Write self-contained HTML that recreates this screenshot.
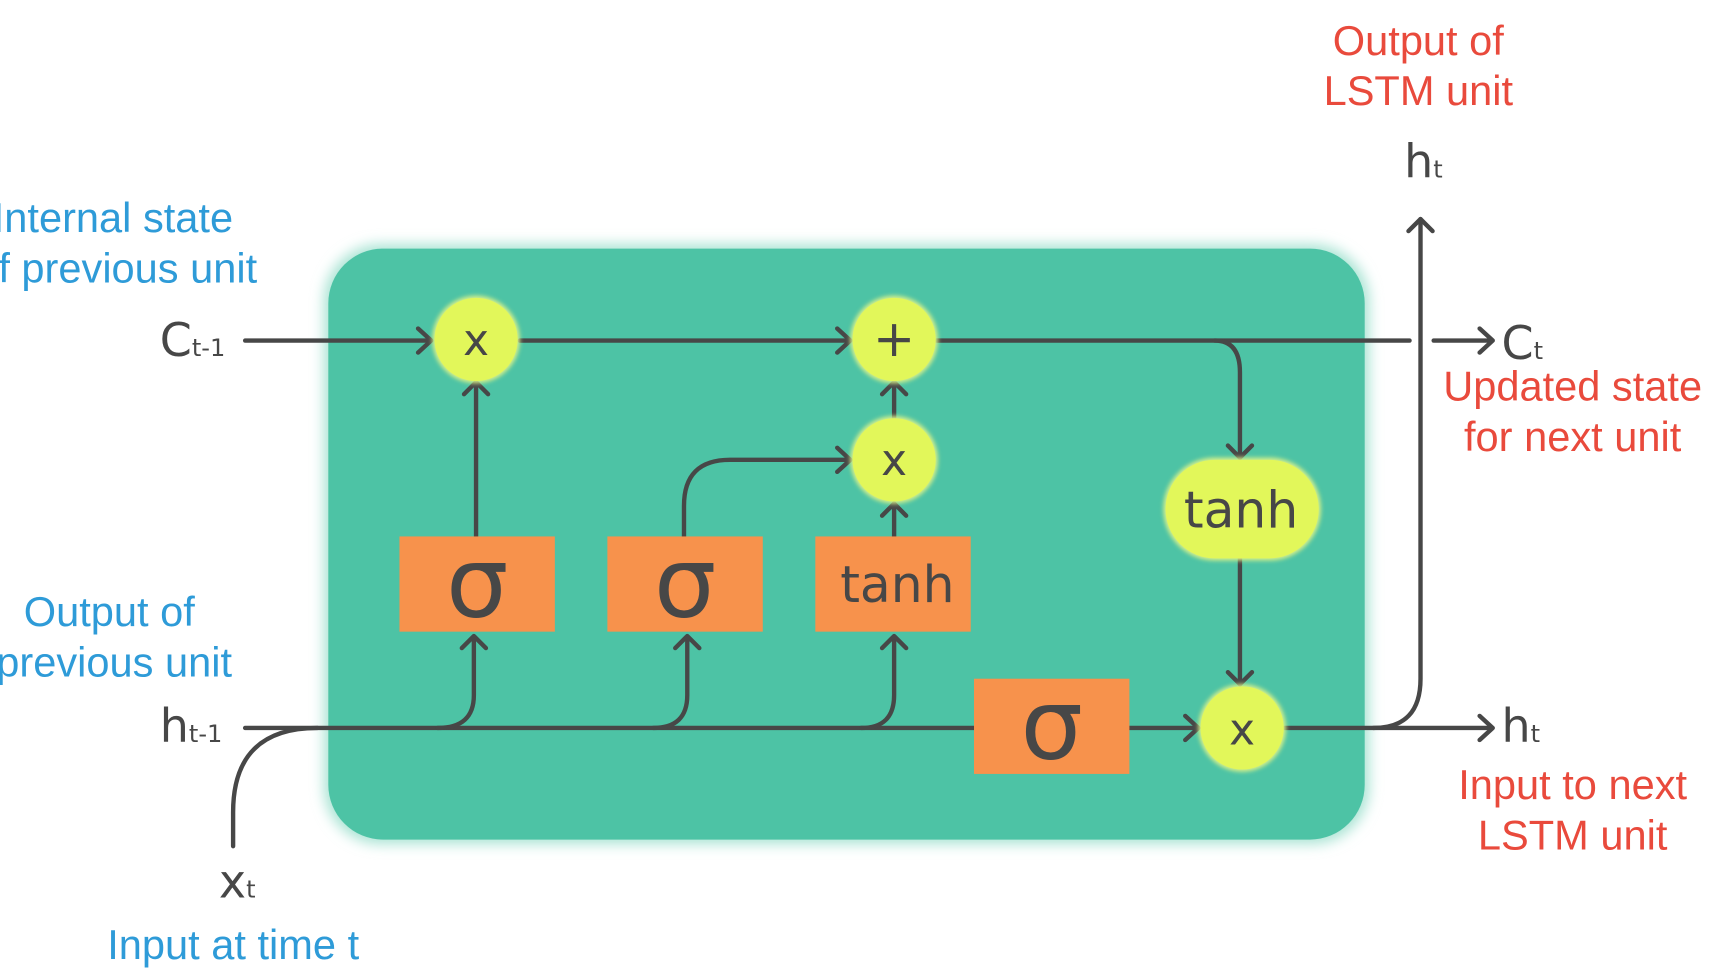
<!DOCTYPE html>
<html><head><meta charset="utf-8"><style>
html,body{margin:0;padding:0;background:#fff;width:1716px;height:970px;overflow:hidden}
svg{display:block}
text{font-family:"DejaVu Sans","Liberation Sans",sans-serif}
text.l{font-family:"Liberation Sans",sans-serif}
</style></head><body>
<svg width="1716" height="970" viewBox="0 0 1568 886" xmlns="http://www.w3.org/2000/svg">
<defs>
<filter id="glow" x="-10%" y="-10%" width="120%" height="120%"><feGaussianBlur stdDeviation="6"/></filter>
<filter id="g2" x="-30%" y="-30%" width="160%" height="160%"><feGaussianBlur stdDeviation="2"/></filter>
</defs>
<rect x="296" y="223" width="955" height="548" rx="52" fill="#a8e3d3" filter="url(#glow)"/>
<rect x="300" y="227" width="947" height="540" rx="50" fill="#4dc3a5"/>
<g fill="none" stroke="#474747" stroke-width="4" stroke-linecap="round" stroke-linejoin="round">
<line x1="224" y1="311" x2="392" y2="311"/>
<polyline points="382,300 394,311 382,322"/>
<line x1="475" y1="311" x2="775" y2="311"/>
<polyline points="765,300 777,311 765,322"/>
<line x1="856" y1="311" x2="1288" y2="311"/>
<line x1="1310" y1="311" x2="1362" y2="311"/>
<polyline points="1352,300 1364,311 1352,322"/>
<line x1="435" y1="490" x2="435" y2="350"/>
<polyline points="424,360 435,349 446,360"/>
<path d="M625,490 V462 Q625,420 667,420 H775"/>
<polyline points="765,409 777,420 765,431"/>
<line x1="817" y1="490" x2="817" y2="460"/>
<polyline points="806,471 817,460 828,471"/>
<line x1="817" y1="382" x2="817" y2="350"/>
<polyline points="806,360 817,349 828,360"/>
<path d="M1110,311 Q1133,311 1133,340 V418"/>
<polyline points="1122,407 1133,418 1144,407"/>
<line x1="1133" y1="510" x2="1133" y2="625"/>
<polyline points="1122,614 1133,625 1144,614"/>
<line x1="224" y1="665" x2="890" y2="665"/>
<path d="M213,773 V742 Q213,665 290,665"/>
<path d="M400,665 Q433,665 433,635 V582"/>
<polyline points="422,592 433,581 444,592"/>
<path d="M597,665 Q628,665 628,635 V582"/>
<polyline points="617,592 628,581 639,592"/>
<path d="M787,665 Q817,665 817,635 V582"/>
<polyline points="806,592 817,581 828,592"/>
<line x1="1032" y1="665" x2="1093" y2="665"/>
<polyline points="1083,654 1095,665 1083,676"/>
<line x1="1174" y1="665" x2="1362" y2="665"/>
<polyline points="1352,654 1364,665 1352,676"/>
<path d="M1255,665 Q1298,665 1298,620 V200"/>
<polyline points="1287,211 1298,200 1309,211"/>
</g>
<g fill="#e2f75a">
<circle cx="435" cy="310" r="40" fill="#d6f08a" filter="url(#g2)"/>
<circle cx="817" cy="310" r="40" fill="#d6f08a" filter="url(#g2)"/>
<circle cx="817" cy="420" r="40" fill="#d6f08a" filter="url(#g2)"/>
<circle cx="1135" cy="665" r="40" fill="#d6f08a" filter="url(#g2)"/>
<rect x="1063" y="418" width="144" height="94" rx="47" fill="#d6f08a" filter="url(#g2)"/>
<circle cx="435" cy="310" r="38"/>
<circle cx="817" cy="310" r="38"/>
<circle cx="817" cy="420" r="38"/>
<circle cx="1135" cy="665" r="38"/>
<rect x="1065" y="420" width="140" height="90" rx="45"/>
</g>
<g fill="#474747" font-size="40" text-anchor="middle">
<text x="435" y="324">x</text>
<text x="817" y="434">x</text>
<text x="1135" y="680">x</text>
<text x="817" y="325" font-size="46">+</text>
<text x="1134" y="482" font-size="46">tanh</text>
</g>
<g fill="#f7924c">
<rect x="365" y="490" width="142" height="87"/>
<rect x="555" y="490" width="142" height="87"/>
<rect x="745" y="490" width="142" height="87"/>
<rect x="890" y="620" width="142" height="87"/>
</g>
<g fill="#474747" text-anchor="middle">
<text x="436" y="563" font-size="90">σ</text>
<text x="626" y="563" font-size="90">σ</text>
<text x="961" y="693" font-size="90">σ</text>
<text x="820" y="550" font-size="46">tanh</text>
</g>
<g fill="#474747" font-size="42">
<text x="146" y="325">C<tspan font-size="22">t-1</tspan></text>
<text x="146" y="678">h<tspan font-size="22">t-1</tspan></text>
<text x="200" y="820">x<tspan font-size="22">t</tspan></text>
<text x="1283" y="162">h<tspan font-size="22">t</tspan></text>
<text x="1372" y="328">C<tspan font-size="22">t</tspan></text>
<text x="1372" y="678">h<tspan font-size="22">t</tspan></text>
</g>
<g fill="#2e9bd8" font-size="38">
<text class="l" x="213" y="212" text-anchor="end">Internal state</text>
<text class="l" x="235" y="258" text-anchor="end">of previous unit</text>
<text class="l" x="178" y="572" text-anchor="end">Output of</text>
<text class="l" x="212" y="618" text-anchor="end">previous unit</text>
<text class="l" x="98" y="876">Input at time t</text>
</g>
<g fill="#e94a3c" font-size="38" text-anchor="middle">
<text class="l" x="1296" y="50">Output of</text>
<text class="l" x="1296" y="96">LSTM unit</text>
<text class="l" x="1437" y="366">Updated state</text>
<text class="l" x="1437" y="412">for next unit</text>
<text class="l" x="1437" y="730">Input to next</text>
<text class="l" x="1437" y="776">LSTM unit</text>
</g>
</svg>
</body></html>
